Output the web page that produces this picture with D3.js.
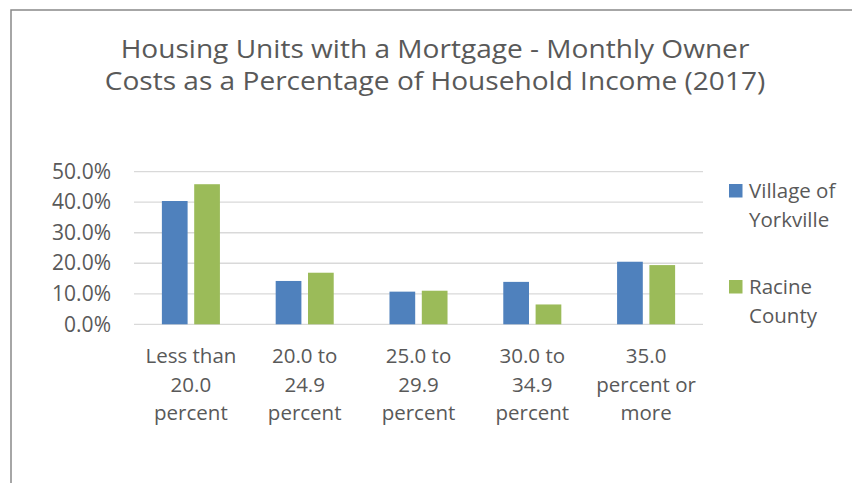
<!DOCTYPE html>
<html>
<head>
<meta charset="utf-8">
<script src="https://cdn.jsdelivr.net/npm/d3@7"></script>
<style>
	body { margin: 0; background: #fff; }
	text { font-family: "Open Sans", sans-serif; fill: #595959; }
</style>
</head>
<body>
<script>
// chart values
var categories = [
	["Less than", "20.0", "percent"],
	["20.0 to", "24.9", "percent"],
	["25.0 to", "29.9", "percent"],
	["30.0 to", "34.9", "percent"],
	["35.0", "percent or", "more"]
];
var seriesNames = [["Village of", "Yorkville"], ["Racine", "County"]];
var yorkville = [40.4, 14.2, 10.7, 13.9, 20.5];
var racine = [45.9, 16.9, 11.0, 6.5, 19.4];
var yTicks = [0, 10, 20, 30, 40, 50];
var titleLines = [
	"Housing Units with a Mortgage - Monthly Owner",
	"Costs as a Percentage of Household Income (2017)"
];
var colors = ["#4F81BD", "#9BBB59"];

var width = 852, height = 483;
var plot = { left: 134, right: 703, top: 171.7, bottom: 324.3 };

var svg = d3.select("body").append("svg")
	.attr("width", width)
	.attr("height", height);

// chart frame
svg.append("rect")
	.attr("x", 11).attr("y", 10)
	.attr("width", 900).attr("height", 600)
	.attr("fill", "none")
	.attr("stroke", "#898989")
	.attr("stroke-width", 1.5);

// title, stretched a little sideways like the original font
svg.append("g")
	.attr("transform", "translate(435,0) scale(1.08,1)")
	.selectAll("text")
	.data(titleLines)
	.enter().append("text")
	.attr("x", 0)
	.attr("y", function(d, i) { return 58.5 + i * 32; })
	.attr("text-anchor", "middle")
	.style("font-size", "26px")
	.text(function(d) { return d; });

var x = d3.scaleBand()
	.domain(d3.range(categories.length))
	.range([plot.left, plot.right]);

var y = d3.scaleLinear()
	.domain([0, 50])
	.range([plot.bottom, plot.top]);

// gridlines
svg.append("g").selectAll("line")
	.data(yTicks)
	.enter().append("line")
	.attr("x1", plot.left).attr("x2", plot.right)
	.attr("y1", function(d) { return y(d); })
	.attr("y2", function(d) { return y(d); })
	.attr("stroke", "#D9D9D9")
	.attr("stroke-width", 1.3);

// y axis labels
var yAxis = svg.append("g")
	.attr("transform", "translate(" + (plot.left - 23) + ",0)")
	.call(d3.axisLeft(y).tickValues(yTicks).tickSize(0).tickPadding(0)
		.tickFormat(function(d) { return d.toFixed(1) + "%"; }));
yAxis.select(".domain").remove();
yAxis.selectAll("text")
	.attr("fill", "#595959")
	.style("font-family", "'Open Sans', sans-serif")
	.style("font-size", "21px");

// bars
var step = x.step();
var barW = step * 0.226, gap = step * 0.058;
var series = [yorkville, racine];

series.forEach(function(vals, s) {
	svg.append("g").selectAll("rect")
		.data(vals)
		.enter().append("rect")
		.attr("x", function(d, i) {
			var c = x(i) + step / 2;
			return s == 0 ? c - gap / 2 - barW : c + gap / 2;
		})
		.attr("y", function(d) { return y(d); })
		.attr("width", barW)
		.attr("height", function(d) { return y(0) - y(d); })
		.attr("fill", colors[s]);
});

// category labels
var cat = svg.append("g").selectAll("text")
	.data(categories)
	.enter().append("text")
	.attr("text-anchor", "middle")
	.style("font-size", "20.5px");
cat.selectAll("tspan")
	.data(function(d, i) { return d.map(function(t) { return { t: t, i: i }; }); })
	.enter().append("tspan")
	.attr("x", function(d) { return x(d.i) + step / 2; })
	.attr("y", function(d, j) { return 363 + j * 28.5; })
	.text(function(d) { return d.t; });

// legend
var legend = svg.append("g").selectAll("g")
	.data(seriesNames)
	.enter().append("g")
	.attr("transform", function(d, i) { return "translate(729," + (184 + i * 96) + ")"; });
legend.append("rect")
	.attr("width", 13.5).attr("height", 13.5)
	.attr("fill", function(d, i) { return colors[i]; });
legend.append("text")
	.selectAll("tspan")
	.data(function(d) { return d; })
	.enter().append("tspan")
	.attr("x", 20)
	.attr("y", function(d, j) { return 13.5 + j * 29.5; })
	.style("font-size", "20.5px")
	.text(function(d) { return d; });
</script>
</body>
</html>
